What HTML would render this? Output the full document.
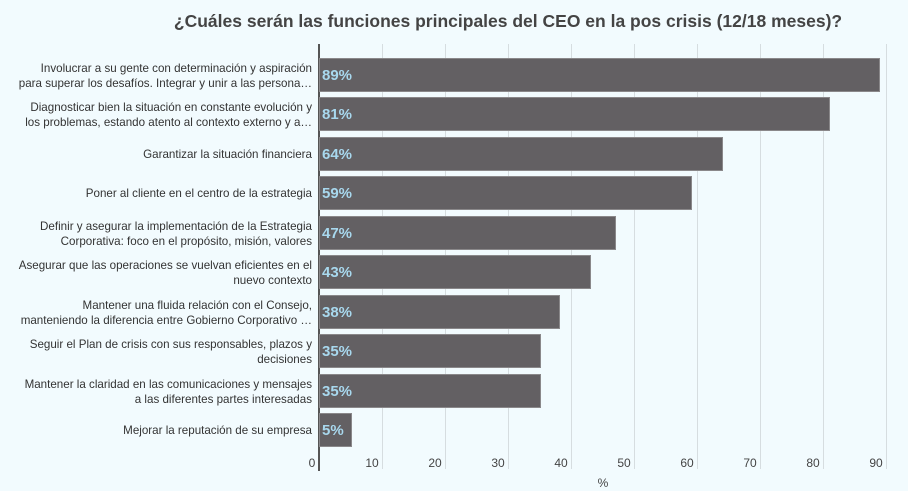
<!DOCTYPE html>
<html><head><meta charset="utf-8"><style>
body{margin:0;background:#f2fbfe;font-family:"Liberation Sans",sans-serif;}
#c{position:relative;width:908px;height:491px;overflow:hidden;background:#f2fbfe;}
.t{position:absolute;left:0;width:1016px;top:11px;text-align:center;font-size:17.5px;font-weight:bold;color:#444;white-space:nowrap;}
.g{position:absolute;top:44px;height:425px;width:1px;background:#d6dde0;}
.b{position:absolute;left:319px;height:34px;background:#636063;border:1px solid #8a888a;box-sizing:border-box;}
.p{position:absolute;left:322px;font-size:15px;font-weight:bold;color:#a8d8ee;line-height:35px;}
.l{position:absolute;right:596px;width:312px;text-align:right;font-size:11.6px;color:#333;line-height:15px;display:flex;align-items:center;justify-content:flex-end;height:35px;white-space:nowrap;}
.l span{display:block;}
.x{position:absolute;top:456px;font-size:12px;color:#444;width:30px;text-align:center;}
</style></head><body><div id="c">
<div class="t">¿Cuáles serán las funciones principales del CEO en la pos crisis (12/18 meses)?</div>
<div class="g" style="left:382px"></div><div class="g" style="left:445px"></div><div class="g" style="left:508px"></div><div class="g" style="left:571px"></div><div class="g" style="left:634px"></div><div class="g" style="left:697px"></div><div class="g" style="left:760px"></div><div class="g" style="left:823px"></div><div class="g" style="left:886px"></div>
<div style="position:absolute;left:318px;top:44px;width:2px;height:427px;background:#555"></div>

<div class="l" style="top:58px"><span>Involucrar a su gente con determinación y aspiración<br>para superar los desafíos. Integrar y unir a las persona…</span></div>
<div class="b" style="top:58px;width:561px"></div><div class="p" style="top:58px">89%</div>
<div class="l" style="top:97px"><span>Diagnosticar bien la situación en constante evolución y<br>los problemas, estando atento al contexto externo y a…</span></div>
<div class="b" style="top:97px;width:511px"></div><div class="p" style="top:97px">81%</div>
<div class="l" style="top:137px">Garantizar la situación financiera</div>
<div class="b" style="top:137px;width:404px"></div><div class="p" style="top:137px">64%</div>
<div class="l" style="top:176px">Poner al cliente en el centro de la estrategia</div>
<div class="b" style="top:176px;width:373px"></div><div class="p" style="top:176px">59%</div>
<div class="l" style="top:216px"><span>Definir y asegurar la implementación de la Estrategia<br>Corporativa: foco en el propósito, misión, valores</span></div>
<div class="b" style="top:216px;width:297px"></div><div class="p" style="top:216px">47%</div>
<div class="l" style="top:255px"><span>Asegurar que las operaciones se vuelvan eficientes en el<br>nuevo contexto</span></div>
<div class="b" style="top:255px;width:272px"></div><div class="p" style="top:255px">43%</div>
<div class="l" style="top:295px"><span>Mantener una fluida relación con el Consejo,<br>manteniendo la diferencia entre Gobierno Corporativo …</span></div>
<div class="b" style="top:295px;width:241px"></div><div class="p" style="top:295px">38%</div>
<div class="l" style="top:334px"><span>Seguir el Plan de crisis con sus responsables, plazos y<br>decisiones</span></div>
<div class="b" style="top:334px;width:222px"></div><div class="p" style="top:334px">35%</div>
<div class="l" style="top:374px"><span>Mantener la claridad en las comunicaciones y mensajes<br>a las diferentes partes interesadas</span></div>
<div class="b" style="top:374px;width:222px"></div><div class="p" style="top:374px">35%</div>
<div class="l" style="top:413px">Mejorar la reputación de su empresa</div>
<div class="b" style="top:413px;width:33px"></div><div class="p" style="top:413px">5%</div>

<div class="x" style="left:297px">0</div><div class="x" style="left:357px">10</div><div class="x" style="left:420px">20</div><div class="x" style="left:483px">30</div><div class="x" style="left:546px">40</div><div class="x" style="left:609px">50</div><div class="x" style="left:672px">60</div><div class="x" style="left:735px">70</div><div class="x" style="left:798px">80</div><div class="x" style="left:861px">90</div>
<div class="x" style="left:588px;top:476px">%</div>
</div></body></html>
